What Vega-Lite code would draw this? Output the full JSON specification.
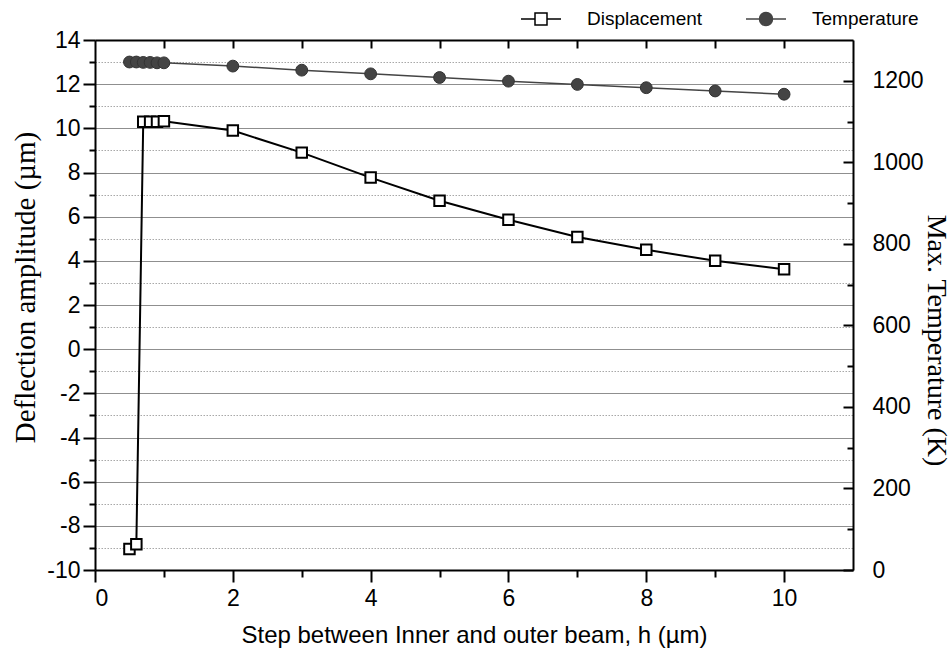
{
  "$schema": "https://vega.github.io/schema/vega-lite/v6.json",
  "width": 758,
  "height": 530,
  "autosize": "none",
  "padding": {"left": 95, "top": 40, "right": 98, "bottom": 84},
  "background": "white",
  "config": {
    "view": {"stroke": null},
    "axis": {
      "labelFont": "Liberation Sans",
      "labelFontSize": 23,
      "labelColor": "black",
      "domainColor": "black",
      "domainWidth": 2,
      "tickColor": "black",
      "tickWidth": 2,
      "titleColor": "black",
      "titleFontWeight": "normal"
    }
  },
  "data": {
    "values": [
      {"h": 0.5, "disp": -9.05, "temp": 1246},
      {"h": 0.6, "disp": -8.83, "temp": 1246},
      {"h": 0.7, "disp": 10.3, "temp": 1245},
      {"h": 0.8, "disp": 10.3, "temp": 1245},
      {"h": 0.9, "disp": 10.3, "temp": 1244},
      {"h": 1.0, "disp": 10.32, "temp": 1244},
      {"h": 2, "disp": 9.9, "temp": 1236},
      {"h": 3, "disp": 8.9, "temp": 1226},
      {"h": 4, "disp": 7.77, "temp": 1217},
      {"h": 5, "disp": 6.72, "temp": 1208},
      {"h": 6, "disp": 5.86, "temp": 1199},
      {"h": 7, "disp": 5.08, "temp": 1191},
      {"h": 8, "disp": 4.5, "temp": 1183},
      {"h": 9, "disp": 4.0, "temp": 1175},
      {"h": 10, "disp": 3.62, "temp": 1167}
    ]
  },
  "layer": [
    {
      "encoding": {
        "x": {
          "field": "h",
          "type": "quantitative",
          "scale": {"domain": [0, 11], "nice": false},
          "axis": {
            "orient": "bottom",
            "values": [0, 1, 2, 3, 4, 5, 6, 7, 8, 9, 10],
            "labelExpr": "datum.value % 2 === 0 ? '' + datum.value : ''",
            "tickSize": {"condition": {"test": "datum.value % 2 === 0", "value": 12}, "value": 7},
            "labelPadding": 5,
            "grid": false,
            "title": "Step between Inner and outer beam, h (µm)",
            "titleFont": "Liberation Sans",
            "titleFontSize": 24,
            "titleX": 379,
            "titleY": 65,
            "titleBaseline": "middle"
          }
        },
        "y": {
          "field": "disp",
          "type": "quantitative",
          "scale": {"domain": [-10, 14], "nice": false, "zero": false},
          "axis": {
            "values": [-10, -9, -8, -7, -6, -5, -4, -3, -2, -1, 0, 1, 2, 3, 4, 5, 6, 7, 8, 9, 10, 11, 12, 13, 14],
            "labelExpr": "datum.value % 2 === 0 ? '' + datum.value : ''",
            "tickSize": {"condition": {"test": "datum.value % 2 === 0", "value": 12}, "value": 6},
            "labelPadding": 3,
            "grid": true,
            "gridColor": {"condition": {"test": "datum.value % 2 === 0", "value": "#8f8f8f"}, "value": "#a8a8a8"},
            "gridDash": {"condition": {"test": "datum.value % 2 === 0", "value": []}, "value": [1.5, 1.5]},
            "gridWidth": 1.2,
            "title": "Deflection amplitude (µm)",
            "titleFont": "Liberation Serif",
            "titleFontSize": 29,
            "titleAngle": -90,
            "titleX": -70,
            "titleY": 247,
            "titleBaseline": "middle",
            "titleAlign": "center"
          }
        }
      },
      "layer": [
        {
          "mark": {"type": "line", "strokeWidth": 2},
          "encoding": {
            "color": {
              "datum": "Displacement",
              "scale": {"domain": ["Displacement", "Temperature"], "range": ["black", "#444444"]},
              "legend": {
                "orient": "none",
                "legendX": 435,
                "legendY": -32,
                "direction": "horizontal",
                "title": null,
                "labelFont": "Liberation Sans",
                "labelFontSize": 19,
                "labelColor": "black",
                "symbolSize": 400,
                "labelOffset": 35,
                "columnPadding": 40,
                "symbolStrokeWidth": 1.5,
                "encode": {
                  "symbols": {
                    "update": {
                      "shape": {"signal": "datum.value === 'Displacement' ? 'M-2,0H-0.6M0.6,0H2M-0.6,-0.6H0.6V0.6H-0.6Z' : 'M-2,0H-0.65M0.65,0H2M-0.65,0A0.65,0.65,0,1,0,0.65,0A0.65,0.65,0,1,0,-0.65,0'"},
                      "fill": {"signal": "datum.value === 'Displacement' ? 'white' : '#444444'"},
                      "stroke": {"signal": "datum.value === 'Displacement' ? 'black' : '#444444'"},
                      "opacity": {"value": 1}
                    }
                  }
                }
              }
            }
          }
        },
        {
          "mark": {"type": "point", "shape": "square", "filled": true, "fill": "white", "stroke": "black", "strokeWidth": 2, "size": 110, "opacity": 1}
        }
      ]
    },
    {
      "encoding": {
        "x": {
          "field": "h",
          "type": "quantitative",
          "scale": {"domain": [0, 11], "nice": false},
          "axis": {
            "orient": "top",
            "values": [1, 2, 3, 4, 5, 6, 7, 8, 9, 10],
            "labels": false,
            "tickSize": -8,
            "grid": false,
            "title": null
          }
        },
        "y": {
          "field": "temp",
          "type": "quantitative",
          "scale": {"domain": [0, 1300], "nice": false, "zero": true},
          "axis": {
            "orient": "right",
            "values": [0, 100, 200, 300, 400, 500, 600, 700, 800, 900, 1000, 1100, 1200],
            "labelExpr": "datum.value % 200 === 0 ? '' + datum.value : ''",
            "tickSize": {"condition": {"test": "datum.value % 200 === 0", "value": -10}, "value": -6},
            "labelPadding": 29,
            "grid": false,
            "title": "Max. Temperature (K)",
            "titleFont": "Liberation Serif",
            "titleFontSize": 28,
            "titleAngle": 90,
            "titleX": 82,
            "titleY": 300,
            "titleBaseline": "middle",
            "titleAlign": "center"
          }
        }
      },
      "layer": [
        {
          "mark": {"type": "line", "strokeWidth": 1.5},
          "encoding": {"color": {"datum": "Temperature"}}
        },
        {
          "mark": {"type": "point", "shape": "circle", "filled": true, "fill": "#444444", "stroke": "#333333", "strokeWidth": 1, "size": 140, "opacity": 1}
        }
      ]
    }
  ],
  "resolve": {"scale": {"y": "independent"}, "axis": {"x": "independent"}}
}
